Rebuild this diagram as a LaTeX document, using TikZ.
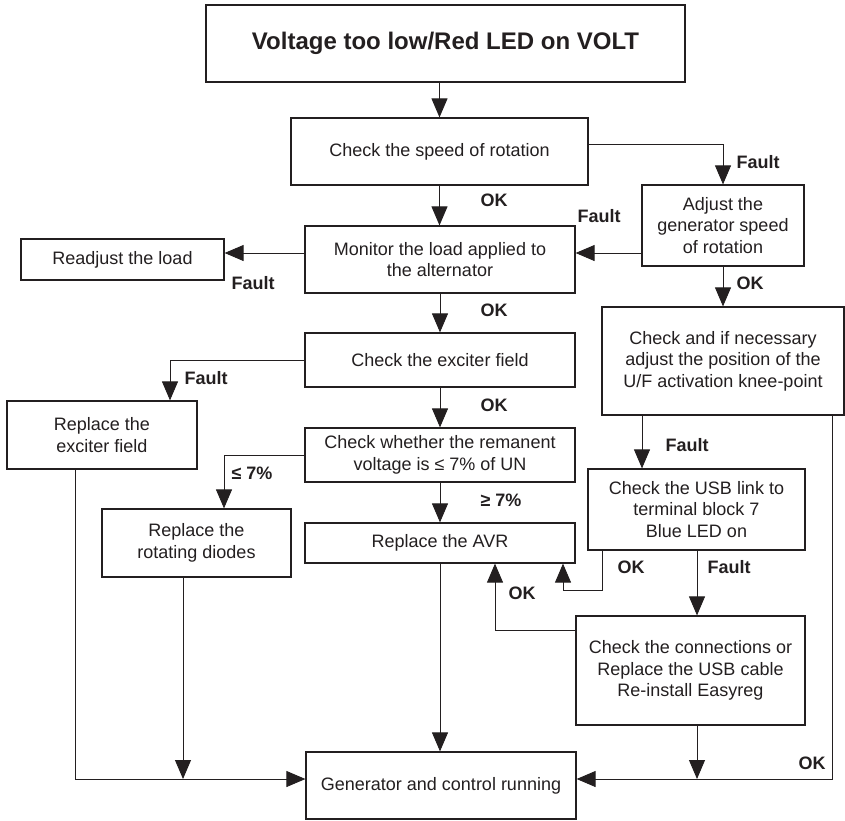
\documentclass[tikz,border=0pt]{standalone}
\usepackage{fontspec}
\setmainfont{Liberation Sans}
\usetikzlibrary{arrows.meta}
\definecolor{ink}{HTML}{231F20}

\begin{document}
\begin{tikzpicture}[x=1pt,y=-1pt,
  box/.style={draw=ink,line width=1.2pt,fill=white,inner sep=2pt,align=center,
              text=ink,font=\fontsize{18}{21.5}\selectfont},
  head/.style={box,line width=2.4pt,font=\fontsize{24}{28}\selectfont\bfseries},
  lbl/.style={inner sep=0pt,text=ink,font=\fontsize{18}{21}\selectfont\bfseries},
  arr/.style={-{Triangle[length=19pt,width=16pt]},line width=0.9pt,draw=ink}
]
\useasboundingbox (0,0) rectangle (845,820);

% boxes
\node[head,minimum width=479,minimum height=77] (alarm) at (445.5,43.5) {\raisebox{3pt}{Voltage too low/Red LED on VOLT}};
\node[box,minimum width=297,minimum height=67] (speed) at (439.5,151.5) {Check the speed of rotation};
\node[box,minimum width=162,minimum height=81] (adjust) at (723,225.5) {Adjust the\\generator speed\\of rotation};
\node[box,minimum width=270,minimum height=67] (load) at (440,259.5) {Monitor the load applied to\\the alternator};
\node[box,minimum width=203,minimum height=41] (readjust) at (122.5,259.5) {Readjust the load};
\node[box,minimum width=270,minimum height=54] (exciter) at (440,360) {Check the exciter field};
\node[box,minimum width=242,minimum height=108] (knee) at (723,361) {Check and if necessary\\adjust the position of the\\U/F activation knee-point};
\node[box,minimum width=190,minimum height=68] (newexciter) at (102,435) {Replace the\\exciter field};
\node[box,minimum width=270,minimum height=54] (remanent) at (440,455) {Check whether the remanent\\voltage is ≤ 7\% of UN};
\node[box,minimum width=189,minimum height=68] (diodes) at (196.5,543) {Replace the\\rotating diodes};
\node[box,minimum width=270,minimum height=40] (avr) at (440,543) {Replace the AVR};
\node[box,minimum width=217,minimum height=81] (usb) at (696.5,509.5) {Check the USB link to\\terminal block 7\\Blue LED on};
\node[box,minimum width=229,minimum height=109] (cable) at (690.5,670.5) {Check the connections or\\Replace the USB cable\\Re-install Easyreg};
\node[box,minimum width=270,minimum height=67] (running) at (441,785.5) {Generator and control running};

% rows and columns of the wiring
\coordinate (lvlSpeed) at (0,144);
\coordinate (lvlFault) at (0,253);
\coordinate (colFx) at (170,0);
\coordinate (colLe) at (224,0);
\coordinate (colKnee) at (642,0);
\coordinate (colUsbOk) at (602,0);
\coordinate (rowUsbOk) at (0,590);
\coordinate (colAvrIn) at (563,0);
\coordinate (colFault2) at (697,0);
\coordinate (rowCable) at (0,630);
\coordinate (colAvrIn2) at (495,0);
\coordinate (rowBus) at (0,779);
\coordinate (colBusL) at (75,0);
\coordinate (colDiodes) at (183,0);
\coordinate (colRight) at (832,0);

% connectors
\draw[arr] (alarm.south -| speed.north) -- (speed.north);
\draw[arr] (speed.south) -- (speed.south |- load.north);
\draw[arr] (speed.east |- lvlSpeed) -| (adjust.north);
\draw[arr] (adjust.west |- lvlFault) -- (load.east |- lvlFault);
\draw[arr] (load.west |- lvlFault) -- (readjust.east |- lvlFault);
\draw[arr] (adjust.south) -- (knee.north);
\draw[arr] (load.south) -- (exciter.north);
\draw[arr] (exciter.west) -| (newexciter.north -| colFx);
\draw[arr] (exciter.south) -- (remanent.north);
\draw[arr] (remanent.west) -| (diodes.north -| colLe);
\draw[arr] (remanent.south) -- (avr.north);
\draw[arr] (knee.south -| colKnee) -- (usb.north -| colKnee);
\draw[arr] (usb.south -| colUsbOk) |- (colAvrIn |- rowUsbOk) -- (avr.south -| colAvrIn);
\draw[arr] (usb.south -| colFault2) -- (cable.north -| colFault2);
\draw[arr] (cable.west |- rowCable) -| (avr.south -| colAvrIn2);
\draw[arr] (avr.south) -- (avr.south |- running.north);
\draw[arr] (newexciter.south -| colBusL) |- (running.west |- rowBus);
\draw[arr] (diodes.south -| colDiodes) -- (colDiodes |- rowBus);
\draw[arr] (cable.south -| colFault2) -- (colFault2 |- rowBus);
\draw[arr] (knee.south -| colRight) |- (running.east |- rowBus);

% labels
\node[lbl] (okSpeed) at (494,200) {OK};
\node[lbl] (faultSpeed) at (758,162) {Fault};
\node[lbl] (faultAdjust) at (599,216) {Fault};
\node[lbl] (faultLoad) at (253,283) {Fault};
\node[lbl] (okAdjust) at (750,283) {OK};
\node[lbl] (okLoad) at (494,310) {OK};
\node[lbl] (faultExciter) at (206,378) {Fault};
\node[lbl] (okExciter) at (494,405) {OK};
\node[lbl] (lowRem) at (252,473) {≤ 7\%};
\node[lbl] (highRem) at (501,500) {≥ 7\%};
\node[lbl] (faultKnee) at (687,445) {Fault};
\node[lbl] (okUsb) at (631,567) {OK};
\node[lbl] (faultUsb) at (729,567) {Fault};
\node[lbl] (okCable) at (522,593) {OK};
\node[lbl] (okKnee) at (812,763) {OK};
\end{tikzpicture}
\end{document}
